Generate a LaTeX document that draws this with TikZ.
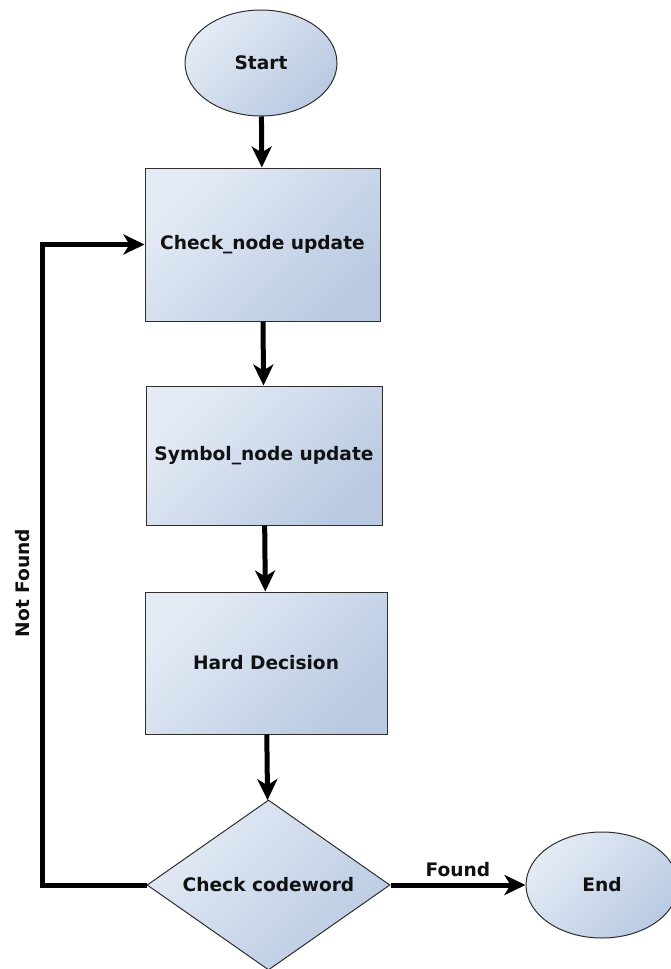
\documentclass[tikz,border=0pt]{standalone}
\usepackage{fontspec}
\setmainfont{DejaVu Sans}
\usepackage{xcolor}
\usepackage{tikz}
\usetikzlibrary{shapes.geometric,arrows.meta}
\definecolor{fillhi}{HTML}{E5EBF5}
\definecolor{filllo}{HTML}{B9CAE2}
\definecolor{edge}{HTML}{2E2E2E}
\definecolor{ink}{HTML}{111111}
\tikzset{
  base/.style={draw=edge, line width=1pt, top color=fillhi, bottom color=filllo,
    shading angle=45, text=ink, inner sep=0pt},
  term/.style={base, ellipse, minimum width=152pt, minimum height=106pt},
  proc/.style={base, rectangle},
  decide/.style={base, diamond, aspect=1.43, minimum width=243pt, minimum height=170pt},
  flow/.style={draw=black, line width=5pt, -{Stealth[length=21pt,width=20pt,inset=6pt]}},
  labf/.style={text=ink, font=\bfseries\fontsize{18.6}{22}\selectfont},
  every node/.style={font=\bfseries\fontsize{18.6}{22}\selectfont}
}

\begin{document}
\begin{tikzpicture}[x=1pt, y=-1pt]
  \useasboundingbox (0,0) rectangle (671,969);

  \node[term] (start) at (261,63) {Start};
  \node[proc, minimum width=235pt, minimum height=153pt] (upd) at (262.5,244.5) {Check\_node update};
  \node[proc, minimum width=236pt, minimum height=139pt] (sym) at (264,455.5) {Symbol\_node update};
  \node[proc, minimum width=242pt, minimum height=142pt] (hard) at (266,663) {Hard Decision};
  \node[decide] (chk) at (268.5,885) {Check codeword};
  \node[term] (fin) at (602,885) {End};

  \draw[flow] (start) -- (upd);
  \draw[flow] (upd) -- (sym);
  \draw[flow] (sym) -- (hard);
  \draw[flow] (hard) -- (chk);
  \draw[flow] (chk) -- node[labf, above=2pt] (fnd) {Found} (fin);
  \draw[flow] (chk.west) -- ++(-104,0) |- (upd.west);
  \node[labf, rotate=90] (nfnd) at (23,583) {Not Found};
\end{tikzpicture}
\end{document}
